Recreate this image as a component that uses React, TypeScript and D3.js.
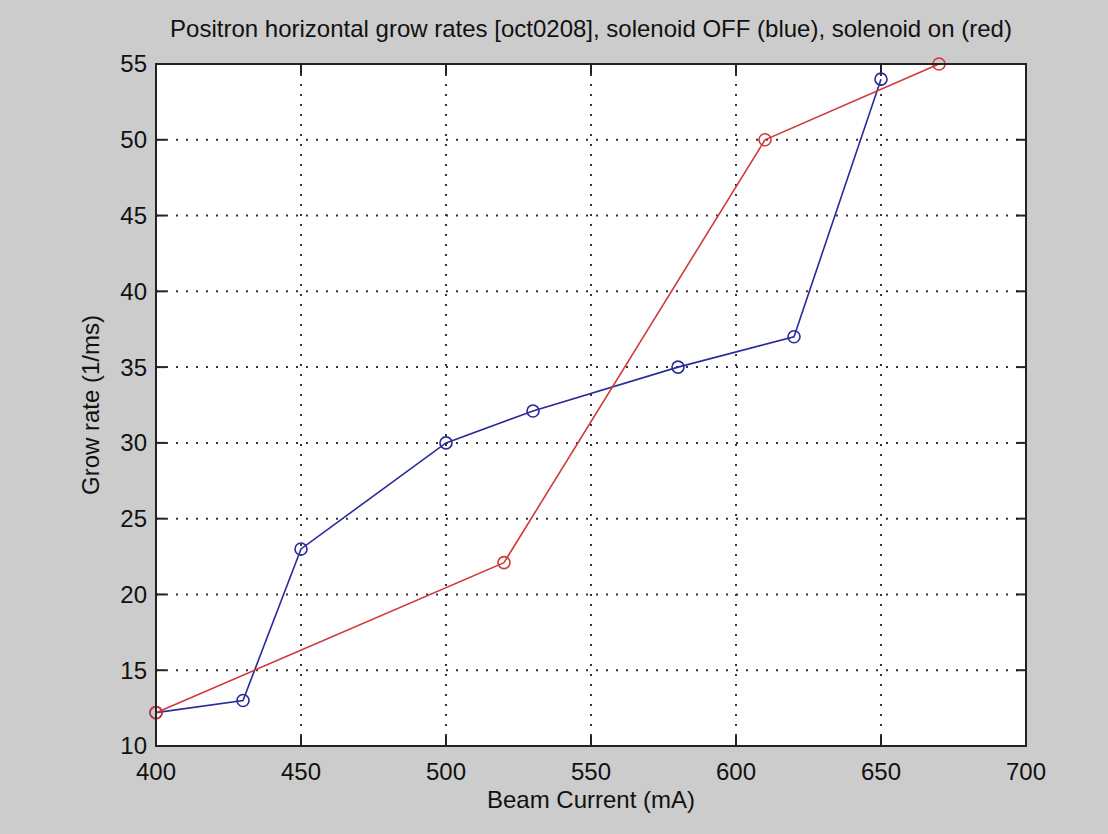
import React from "react";
import * as d3 from "d3";

const xTicks = [400, 450, 500, 550, 600, 650, 700];
const yTicks = [10, 15, 20, 25, 30, 35, 40, 45, 50, 55];

const blueX = [400, 430, 450, 500, 530, 580, 620, 650];
const blueY = [12.2, 13, 23, 30, 32.1, 35, 37, 54];

const redX = [400, 520, 610, 670];
const redY = [12.2, 22.1, 50, 55];

const W = 1108;
const H = 834;
const L = 156, R = 1026, T = 64, B = 746;
const FONT = "'Liberation Sans', Arial, Helvetica, sans-serif";
const FS = 24;

export default function App() {
  const x = d3.scaleLinear().domain([400, 700]).range([L, R]);
  const y = d3.scaleLinear().domain([10, 55]).range([B, T]);
  const line = d3
    .line<[number, number]>()
    .x((d) => x(d[0]))
    .y((d) => y(d[1]));
  const blue = blueX.map((v, i) => [v, blueY[i]] as [number, number]);
  const red = redX.map((v, i) => [v, redY[i]] as [number, number]);
  const blueC = "#2a2a9c";
  const redC = "#d03a3a";
  const gridC = "#333";
  const tick = 10;

  return (
    <svg
      width={W}
      height={H}
      style={{ position: "absolute", left: 0, top: 0 }}
      fontFamily={FONT}
    >
      <rect x={0} y={0} width={W} height={H} fill="#cccccc" />
      <rect x={L} y={T} width={R - L} height={B - T} fill="#ffffff" />
      {/* grid */}
      {xTicks.slice(1, -1).map((t) => (
        <line
          key={"gx" + t}
          x1={x(t)}
          x2={x(t)}
          y1={T}
          y2={B}
          stroke={gridC}
          strokeWidth={2}
          strokeDasharray="2 8"
        />
      ))}
      {yTicks.slice(1, -1).map((t) => (
        <line
          key={"gy" + t}
          x1={L}
          x2={R}
          y1={y(t)}
          y2={y(t)}
          stroke={gridC}
          strokeWidth={2}
          strokeDasharray="2 8"
        />
      ))}
      {/* ticks */}
      {xTicks.map((t) => (
        <g key={"tx" + t}>
          <line x1={x(t)} x2={x(t)} y1={B} y2={B - tick} stroke="#222" strokeWidth={2} />
          <line x1={x(t)} x2={x(t)} y1={T} y2={T + tick} stroke="#222" strokeWidth={2} />
          <text x={x(t)} y={780} fontSize={FS} textAnchor="middle" fill="#111">
            {t}
          </text>
        </g>
      ))}
      {yTicks.map((t) => (
        <g key={"ty" + t}>
          <line x1={L} x2={L + tick} y1={y(t)} y2={y(t)} stroke="#222" strokeWidth={2} />
          <line x1={R} x2={R - tick} y1={y(t)} y2={y(t)} stroke="#222" strokeWidth={2} />
          <text
            x={L - 9}
            y={y(t)}
            dy="0.35em"
            fontSize={FS}
            textAnchor="end"
            fill="#111"
          >
            {t}
          </text>
        </g>
      ))}
      {/* series */}
      <path d={line(blue) || ""} fill="none" stroke={blueC} strokeWidth={1.6} />
      {blue.map((d, i) => (
        <circle key={"b" + i} cx={x(d[0])} cy={y(d[1])} r={6} fill="none" stroke={blueC} strokeWidth={1.6} />
      ))}
      <path d={line(red) || ""} fill="none" stroke={redC} strokeWidth={1.6} />
      {red.map((d, i) => (
        <circle key={"r" + i} cx={x(d[0])} cy={y(d[1])} r={6} fill="none" stroke={redC} strokeWidth={1.6} />
      ))}
      {/* box */}
      <rect x={L} y={T} width={R - L} height={B - T} fill="none" stroke="#222" strokeWidth={2} />
      {/* labels */}
      <text x={(L + R) / 2} y={37} fontSize={FS} textAnchor="middle" fill="#111">
        Positron horizontal grow rates [oct0208], solenoid OFF (blue), solenoid on (red)
      </text>
      <text x={(L + R) / 2} y={808} fontSize={FS} textAnchor="middle" fill="#111">
        Beam Current (mA)
      </text>
      <text
        transform={`translate(99, ${(T + B) / 2}) rotate(-90)`}
        fontSize={FS}
        textAnchor="middle"
        fill="#111"
      >
        Grow rate (1/ms)
      </text>
    </svg>
  );
}
